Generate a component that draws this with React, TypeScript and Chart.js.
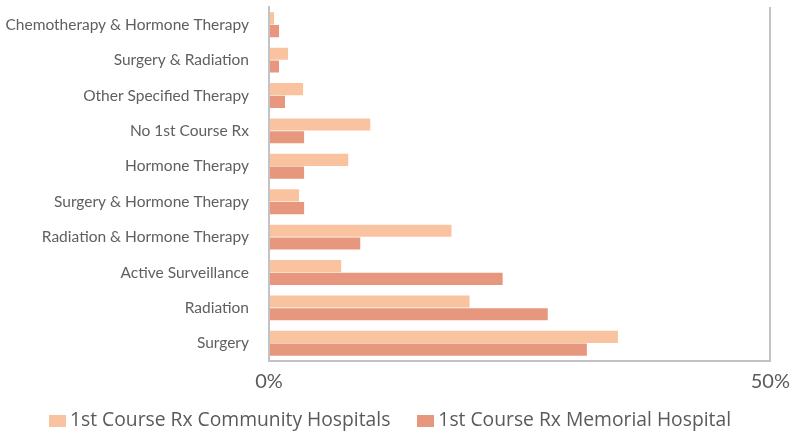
import React, { useEffect, useRef } from "react";
import { Chart, registerables } from "chart.js";

Chart.register(...registerables);

const categories = [
  "Chemotherapy & Hormone Therapy",
  "Surgery & Radiation",
  "Other Specified Therapy",
  "No 1st Course Rx",
  "Hormone Therapy",
  "Surgery & Hormone Therapy",
  "Radiation & Hormone Therapy",
  "Active Surveillance",
  "Radiation",
  "Surgery",
];
const communityValues = [0.5, 1.9, 3.4, 10.1, 7.9, 3.0, 18.2, 7.2, 20.0, 34.8];
const memorialValues = [1.0, 1.0, 1.6, 3.5, 3.5, 3.5, 9.1, 23.3, 27.8, 31.7];
const seriesLabels = ["1st Course Rx Community Hospitals", "1st Course Rx Memorial Hospital"];
const seriesColors = ["#f9c39f", "#e6977d"];
const xMin = 0;
const xMax = 50;
const xStep = 50;

const FONT = "Lato, 'Open Sans', sans-serif";
const LEGEND_FONT = "'Open Sans', Lato, sans-serif";
const GRID = "#c2c2c8";
const TEXT = "#5a5a5a";

const legendPlugin = {
  id: "customLegend",
  afterDraw(chart: any) {
    const ctx = chart.ctx as CanvasRenderingContext2D;
    ctx.save();
    ctx.font = `19.3px ${LEGEND_FONT}`;
    const items = chart.data.datasets.map((ds: any) => ({
      text: ds.label as string,
      color: ds.backgroundColor as string,
      w: ctx.measureText(ds.label).width,
    }));
    const boxW = 17;
    const boxH = 12;
    const textGap = 4;
    const itemGap = 27;
    const centerX = 390;
    const y = 421;
    const total =
      items.reduce((s: number, it: any) => s + boxW + textGap + it.w, 0) +
      itemGap * (items.length - 1);
    let x = centerX - total / 2;
    ctx.textBaseline = "middle";
    ctx.textAlign = "left";
    items.forEach((it: any) => {
      ctx.fillStyle = it.color;
      ctx.fillRect(Math.round(x), y - boxH / 2, boxW, boxH);
      x += boxW + textGap;
      ctx.fillStyle = TEXT;
      ctx.fillText(it.text, x, y);
      x += it.w + itemGap;
    });
    ctx.restore();
  },
};

export default function App() {
  const ref = useRef<HTMLCanvasElement | null>(null);

  useEffect(() => {
    document.body.style.margin = "0";
    const canvas = ref.current;
    if (!canvas) return;
    const chart = new Chart(canvas, {
      type: "bar",
      data: {
        labels: categories,
        datasets: [
          {
            label: seriesLabels[0],
            data: communityValues,
            backgroundColor: seriesColors[0],
            categoryPercentage: 0.72,
            barPercentage: 0.95,
          },
          {
            label: seriesLabels[1],
            data: memorialValues,
            backgroundColor: seriesColors[1],
            categoryPercentage: 0.72,
            barPercentage: 0.95,
          },
        ],
      },
      options: {
        indexAxis: "y",
        animation: false,
        responsive: false,
        events: [],
        layout: { padding: { left: 5, right: 28, top: 7, bottom: 32 } },
        scales: {
          x: {
            min: xMin,
            max: xMax,
            ticks: {
              stepSize: xStep,
              callback: (v: any) => v + "%",
              color: TEXT,
              font: { family: FONT, size: 20 },
              padding: 9,
              maxRotation: 0,
            },
            grid: { color: GRID, lineWidth: 2, drawTicks: false },
            border: { display: true, color: GRID, width: 2 },
          },
          y: {
            ticks: {
              color: "#5f5f5f",
              font: { family: FONT, size: 15.5, lineHeight: 0.9 },
              padding: 0,
            },
            grid: {
              display: true,
              drawOnChartArea: false,
              drawTicks: true,
              tickLength: 20,
              tickColor: "rgba(0,0,0,0)",
            },
            border: { display: true, color: GRID, width: 2 },
            afterFit: (s: any) => {
              s.width = 264;
            },
          },
        },
        plugins: {
          tooltip: { enabled: false },
          legend: { display: false },
        },
      },
      plugins: [legendPlugin],
    });
    return () => chart.destroy();
  }, []);

  return (
    <div style={{ width: 799, height: 435 }}>
      <canvas ref={ref} width={799} height={435} style={{ display: "block" }} />
    </div>
  );
}
